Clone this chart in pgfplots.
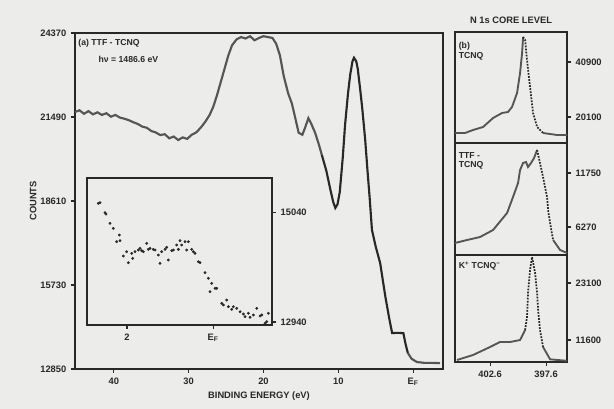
\documentclass[border=0pt]{standalone}
\usepackage{fontspec}
\setmainfont{Liberation Sans}
\usepackage{pgfplots}
\pgfplotsset{compat=1.18}
\definecolor{paper}{RGB}{236,236,234}
\definecolor{ink}{RGB}{40,40,40}
\definecolor{curvegray}{RGB}{85,85,85}
\pgfplotsset{
  common/.style={
    scale only axis, anchor=south west,
    scaled x ticks=false, scaled y ticks=false,
    axis line style={line width=1.1pt, ink},
    tick style={line width=0.8pt, ink},
    tick align=outside, major tick length=3pt,
    ticklabel style={font=\fontsize{7}{8}\selectfont\bfseries, text=ink},
    label style={font=\fontsize{7}{8}\selectfont\bfseries, text=ink},
    clip=true,
  }
}
\begin{document}
\begin{tikzpicture}
\fill[paper] (0,0) rectangle (460.5pt,306.75pt);
\useasboundingbox (0,0) rectangle (460.5pt,306.75pt);

% ---------------- main axis ----------------
\begin{axis}[common,
  at={(56.25pt,30pt)}, width=276pt, height=252pt,
  x dir=reverse, xmin=-4, xmax=45.2, ymin=12850, ymax=24370,
  xtick={40,30,20,10,0}, xticklabels={40,30,20,10,E\textsubscript{F}},
  ytick={12850,15730,18610,21490,24370},
  yticklabels={12850,15730,18610,21490,24370},
  xtick pos=bottom, ytick pos=left,
  xlabel={BINDING ENERGY (eV)}, ylabel={COUNTS},
  xlabel style={yshift=2pt}, ylabel style={yshift=-4pt},
]
\addplot[curvegray, line width=1.6pt] coordinates {
(45.2,21660)(44.6,21720)(44.0,21600)(43.4,21690)(42.8,21580)(42.2,21650)
(41.6,21560)(41.0,21620)(40.4,21500)(39.8,21560)(39.2,21470)(38.6,21430)
(38.0,21380)(37.4,21310)(36.8,21250)(36.2,21160)(35.6,21120)(35.0,21010)
(34.4,20960)(33.8,20870)(33.2,20900)(32.6,20760)(32.0,20820)(31.4,20700)
(30.8,20790)(30.2,20740)(29.6,20880)(29.0,20960)(28.4,21120)(27.8,21320)
(27.2,21560)(26.7,21850)(26.2,22250)(25.7,22700)(25.2,23150)(24.7,23600)
(24.2,23950)(23.6,24150)(23.0,24230)(22.4,24180)(21.8,24260)(21.2,24120)
(20.6,24200)(20.0,24260)(19.4,24230)(18.8,24200)(18.3,24000)(17.8,23600)
(17.3,22900)(16.7,22300)(16.2,21950)(15.7,21400)(15.3,20950)(14.8,20880)
(14.4,21150)(14.0,21450)(13.6,21250)(13.1,20950)(12.6,20550)(12.2,20190)
};
\addplot[ink, line width=1.6pt] coordinates {
(12.2,20190)(11.6,19650)(11.1,19050)(10.7,18600)(10.4,18370)(10.1,18500)
(9.8,18920)(9.4,20100)(9.1,21200)(8.7,22300)(8.4,22950)(8.1,23400)
(7.9,23520)(7.6,23400)(7.4,23150)(7.1,22500)(6.8,21800)(6.4,20700)
(6.1,19670)(5.8,18700)(5.5,17620)(5.0,17050)(4.4,16480)(3.7,15320)
(3.2,14600)(2.8,14080)(2.1,14090)(1.3,14080)(1.0,13700)(0.7,13400)
};
\addplot[curvegray, line width=1.6pt] coordinates {
(0.7,13400)(0.2,13200)(-0.5,13090)(-1.5,13060)(-2.5,13060)(-3.6,13050)
};
\node[anchor=north west, font=\fontsize{6.5}{7}\selectfont\bfseries, text=ink, inner sep=1pt]
  at (rel axis cs:0.005,0.985) {(a) TTF - TCNQ};
\node[anchor=north west, font=\fontsize{6.5}{7}\selectfont\bfseries, text=ink, inner sep=1pt]
  at (rel axis cs:0.06,0.935) {hν = 1486.6 eV};
\end{axis}

% ---------------- inset ----------------
\begin{axis}[common,
  at={(65.25pt,63pt)}, width=138.75pt, height=110.25pt,
  axis background/.style={fill=paper},
  x dir=reverse, xmin=-1.37, xmax=2.93, ymin=12883, ymax=15690,
  xtick={2,0}, xticklabels={2,E\textsubscript{F}},
  ytick={12940,15040}, yticklabels={12940,15040},
  yticklabel pos=right, xtick pos=bottom, ytick pos=right,
]
\addplot[only marks, mark=*, mark size=0.85pt, ink] coordinates {
(2.667,15205)(2.628,15218)(2.512,15027)(2.488,15002)(2.395,14824)(2.318,14728)
(2.240,14474)(2.178,14601)(2.163,14493)(2.085,14200)(2.008,14283)(1.969,14073)
(1.891,14251)(1.868,14156)(1.814,14283)(1.736,14315)(1.698,14346)(1.659,14302)
(1.620,14283)(1.543,14442)(1.504,14327)(1.465,14346)(1.388,14327)(1.349,14315)
(1.271,14219)(1.233,14060)(1.194,14283)(1.116,14327)(1.078,14366)(1.039,14124)
(0.961,14302)(0.922,14315)(0.845,14410)(0.806,14327)(0.767,14493)(0.729,14410)
(0.651,14474)(0.612,14315)(0.574,14474)(0.496,14327)(0.457,14283)(0.419,14251)
(0.341,14092)(0.302,14073)(0.186,13882)(0.109,13774)(0.070,13519)(0.031,13678)
(-0.047,13583)(-0.085,13583)(-0.202,13297)(-0.240,13265)(-0.318,13360)(-0.357,13233)
(-0.434,13182)(-0.473,13233)(-0.550,13201)(-0.628,13137)(-0.705,13093)(-0.744,13042)
(-0.822,13106)(-0.860,13030)(-0.938,13074)(-1.016,13201)(-1.093,13055)(-1.132,13074)
(-1.209,12915)(-1.248,12947)(-1.287,13106)
};
\end{axis}

% ---------------- right panels ----------------
\begin{axis}[common,
  at={(341.25pt,199.5pt)}, width=84pt, height=83.25pt,
  x dir=reverse, xmin=395.73, xmax=405.73, ymin=10266, ymax=52246,
  xtick=\empty, ytick={20100,40900}, yticklabels={20100,40900},
  yticklabel pos=right, ytick pos=right,
  title={N 1s CORE LEVEL}, title style={font=\fontsize{7}{8}\selectfont\bfseries, text=ink, yshift=-3pt},
]
\addplot[curvegray, line width=1.4pt] coordinates {
(405.73,14048)(404.83,14048)(404.12,15182)(403.22,16317)(402.33,19721)
(401.53,21612)(401.0,21990)(400.64,23881)(400.19,29176)(399.92,36740)
(399.74,44304)(399.65,50355)};
\addplot[ink, line width=1.3pt, densely dotted] coordinates {
(399.65,50355)(399.47,49220)(399.30,41656)(399.03,31445)(398.76,21612)(398.40,16317)(397.87,14048)};
\addplot[curvegray, line width=1.4pt] coordinates {
(397.87,14048)(396.62,13292)(395.73,13292)};
\node[anchor=north west, align=left, font=\fontsize{6.5}{7}\selectfont\bfseries, text=ink, inner sep=1pt]
  at (rel axis cs:0.02,0.92) {(b)\\TCNQ};
\end{axis}

\begin{axis}[common,
  at={(341.25pt,115.5pt)}, width=84pt, height=84pt,
  x dir=reverse, xmin=395.73, xmax=405.73, ymin=3427, ymax=14795,
  xtick=\empty, ytick={6270,11750}, yticklabels={6270,11750},
  yticklabel pos=right, ytick pos=right,
]
\addplot[curvegray, line width=1.4pt] coordinates {
(405.73,4645)(404.65,4949)(403.49,5254)(402.33,5965)(401.08,7690)
(400.55,9314)(400.10,10735)(399.92,12055)(399.65,12765)(399.39,12867)
(399.21,12359)(398.94,12765)(398.67,13273)(398.40,14085)};
\addplot[ink, line width=1.3pt, densely dotted] coordinates {
(398.40,14085)(398.14,12765)(397.87,11344)(397.51,9314)(397.42,7995)(397.24,6675)(396.97,4949)};
\addplot[curvegray, line width=1.4pt] coordinates {
(396.97,4949)(396.35,3935)(395.73,3630)};
\node[anchor=north west, align=left, font=\fontsize{6.5}{7}\selectfont\bfseries, text=ink, inner sep=1pt]
  at (rel axis cs:0.02,0.93) {TTF -\\TCNQ};
\end{axis}

\begin{axis}[common,
  at={(341.25pt,35.25pt)}, width=84pt, height=80.25pt,
  x dir=reverse, xmin=395.73, xmax=405.73, ymin=7162, ymax=28749,
  xtick={402.6,397.6}, xticklabels={402.6,397.6}, xtick pos=bottom,
  ytick={11600,23100}, yticklabels={11600,23100},
  yticklabel pos=right, ytick pos=right,
]
\addplot[curvegray, line width=1.4pt] coordinates {
(405.55,7565)(404.12,8574)(402.6,10188)(401.71,11197)(400.81,11197)(399.92,11600)(399.47,13618)};
\addplot[ink, line width=1.3pt, densely dotted] coordinates {
(399.47,13618)(399.30,16240)(399.21,21082)(399.03,25723)(398.85,28345)
(398.58,25117)(398.40,21082)(398.31,17653)(398.14,13618)(397.87,10188)};
\addplot[curvegray, line width=1.4pt] coordinates {
(397.87,10188)(397.24,7700)(395.73,7400)};
\node[anchor=north west, font=\fontsize{6.5}{7}\selectfont\bfseries, text=ink, inner sep=1pt]
  at (rel axis cs:0.02,0.95) {K\textsuperscript{+} TCNQ\textsuperscript{−}};
\end{axis}
\end{tikzpicture}
\end{document}
